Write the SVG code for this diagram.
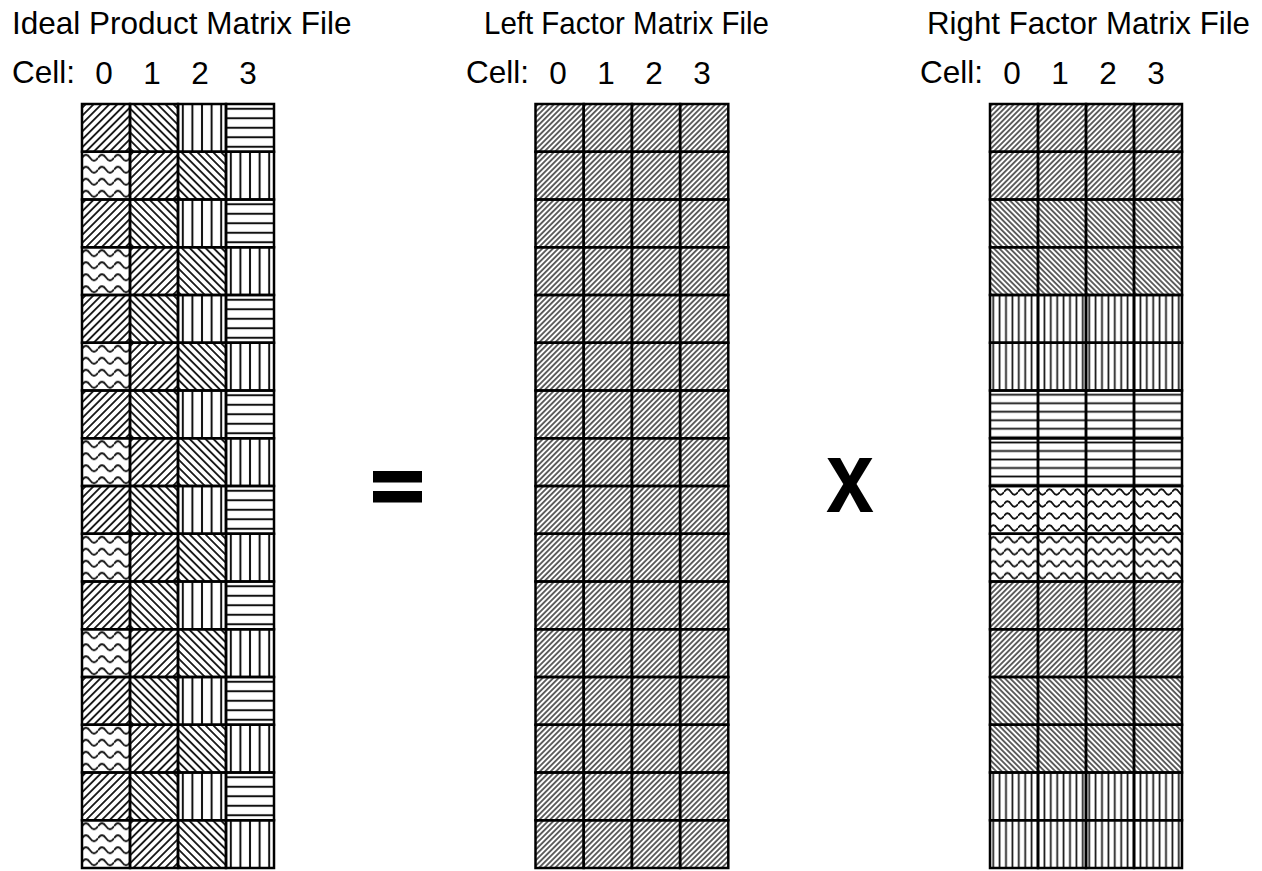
<svg xmlns="http://www.w3.org/2000/svg" width="1262" height="871" viewBox="0 0 1262 871">
<style>
text{font-family:"Liberation Sans",Arial,sans-serif;fill:#000}
.t{font-size:31.5px}
.d{font-size:31.5px;text-anchor:middle}
.c{stroke:#000;stroke-width:2.5}
.s{stroke:#111;fill:none}
</style>
<defs>
<pattern id="cR" width="5.6" height="5.6" patternUnits="userSpaceOnUse" patternTransform="rotate(45)"><line class="s" x1="2.8" y1="-1" x2="2.8" y2="6.6" stroke-width="1.8"/></pattern>
<pattern id="cL" width="5.6" height="5.6" patternUnits="userSpaceOnUse" patternTransform="rotate(-45)"><line class="s" x1="2.8" y1="-1" x2="2.8" y2="6.6" stroke-width="1.8"/></pattern>
<pattern id="fR" width="3.8" height="3.8" patternUnits="userSpaceOnUse" patternTransform="rotate(45)"><line class="s" x1="1.9" y1="-1" x2="1.9" y2="4.8" stroke-width="1.3"/></pattern>
<pattern id="fL" width="3.8" height="3.8" patternUnits="userSpaceOnUse" patternTransform="rotate(-45)"><line class="s" x1="1.9" y1="-1" x2="1.9" y2="4.8" stroke-width="1.3"/></pattern>
<pattern id="vC" width="9.6" height="10" patternUnits="userSpaceOnUse"><line class="s" x1="4.8" y1="0" x2="4.8" y2="10" stroke-width="2"/></pattern>
<pattern id="hC" width="10" height="9.5" patternUnits="userSpaceOnUse"><line class="s" x1="0" y1="4.75" x2="10" y2="4.75" stroke-width="2"/></pattern>
<pattern id="vF" width="6.4" height="10" patternUnits="userSpaceOnUse"><line class="s" x1="3.2" y1="0" x2="3.2" y2="10" stroke-width="1.7"/></pattern>
<pattern id="hF" width="10" height="8.5" patternUnits="userSpaceOnUse"><line class="s" x1="0" y1="4.25" x2="10" y2="4.25" stroke-width="1.8"/></pattern>
<pattern id="wC" width="16" height="12" patternUnits="userSpaceOnUse"><path class="s" d="M0,6 Q4,0 8,6 T16,6" stroke-width="1.8"/></pattern>
<pattern id="wF" width="14" height="12" patternUnits="userSpaceOnUse"><path class="s" d="M0,6 Q3.5,0.5 7,6 T14,6" stroke-width="1.8"/></pattern>

<g id="rowE"><rect class="c" x="0" y="0" width="48" height="47.75" fill="url(#cR)"/><rect class="c" x="48" y="0" width="48" height="47.75" fill="url(#cL)"/><rect class="c" x="96" y="0" width="48" height="47.75" fill="url(#vC)"/><rect class="c" x="144" y="0" width="48" height="47.75" fill="url(#hC)"/></g>
<g id="rowO"><rect class="c" x="0" y="0" width="48" height="47.75" fill="url(#wC)"/><rect class="c" x="48" y="0" width="48" height="47.75" fill="url(#cR)"/><rect class="c" x="96" y="0" width="48" height="47.75" fill="url(#cL)"/><rect class="c" x="144" y="0" width="48" height="47.75" fill="url(#vC)"/></g>
<g id="rowM"><rect class="c" x="0" y="0" width="48.2" height="47.75" fill="url(#fR)"/><rect class="c" x="48.2" y="0" width="48.2" height="47.75" fill="url(#fR)"/><rect class="c" x="96.4" y="0" width="48.2" height="47.75" fill="url(#fR)"/><rect class="c" x="144.6" y="0" width="48.2" height="47.75" fill="url(#fR)"/></g>
<g id="rFR"><rect class="c" x="0" y="0" width="48" height="47.75" fill="url(#fR)"/><rect class="c" x="48" y="0" width="48" height="47.75" fill="url(#fR)"/><rect class="c" x="96" y="0" width="48" height="47.75" fill="url(#fR)"/><rect class="c" x="144" y="0" width="48" height="47.75" fill="url(#fR)"/></g>
<g id="rFL"><rect class="c" x="0" y="0" width="48" height="47.75" fill="url(#fL)"/><rect class="c" x="48" y="0" width="48" height="47.75" fill="url(#fL)"/><rect class="c" x="96" y="0" width="48" height="47.75" fill="url(#fL)"/><rect class="c" x="144" y="0" width="48" height="47.75" fill="url(#fL)"/></g>
<g id="rV"><rect class="c" x="0" y="0" width="48" height="47.75" fill="url(#vF)"/><rect class="c" x="48" y="0" width="48" height="47.75" fill="url(#vF)"/><rect class="c" x="96" y="0" width="48" height="47.75" fill="url(#vF)"/><rect class="c" x="144" y="0" width="48" height="47.75" fill="url(#vF)"/></g>
<g id="rH"><rect class="c" x="0" y="0" width="48" height="47.75" fill="url(#hF)"/><rect class="c" x="48" y="0" width="48" height="47.75" fill="url(#hF)"/><rect class="c" x="96" y="0" width="48" height="47.75" fill="url(#hF)"/><rect class="c" x="144" y="0" width="48" height="47.75" fill="url(#hF)"/></g>
<g id="rW"><rect class="c" x="0" y="0" width="48" height="47.75" fill="url(#wF)"/><rect class="c" x="48" y="0" width="48" height="47.75" fill="url(#wF)"/><rect class="c" x="96" y="0" width="48" height="47.75" fill="url(#wF)"/><rect class="c" x="144" y="0" width="48" height="47.75" fill="url(#wF)"/></g>
</defs>
<rect width="1262" height="871" fill="#fff"/>

<g id="ideal-product">
<text class="t" x="12" y="34">Ideal Product Matrix File</text>
<text class="t" x="12" y="83">Cell:</text>
<text class="d" x="104" y="84">0</text><text class="d" x="152" y="84">1</text><text class="d" x="200" y="84">2</text><text class="d" x="248" y="84">3</text>
<g transform="translate(82,0)">
<use href="#rowE" y="104"/><use href="#rowO" y="151.75"/><use href="#rowE" y="199.5"/><use href="#rowO" y="247.25"/>
<use href="#rowE" y="295"/><use href="#rowO" y="342.75"/><use href="#rowE" y="390.5"/><use href="#rowO" y="438.25"/>
<use href="#rowE" y="486"/><use href="#rowO" y="533.75"/><use href="#rowE" y="581.5"/><use href="#rowO" y="629.25"/>
<use href="#rowE" y="677"/><use href="#rowO" y="724.75"/><use href="#rowE" y="772.5"/><use href="#rowO" y="820.25"/>
</g>
</g>

<g id="equals">
<rect x="373" y="471" width="49" height="11.5" fill="#000"/>
<rect x="373" y="491" width="49" height="11.5" fill="#000"/>
</g>

<g id="left-factor">
<text class="t" x="484" y="34" textLength="285" lengthAdjust="spacingAndGlyphs">Left Factor Matrix File</text>
<text class="t" x="466" y="83">Cell:</text>
<text class="d" x="558" y="84">0</text><text class="d" x="606" y="84">1</text><text class="d" x="654" y="84">2</text><text class="d" x="702" y="84">3</text>
<g transform="translate(535.5,0)">
<use href="#rowM" y="104"/><use href="#rowM" y="151.75"/><use href="#rowM" y="199.5"/><use href="#rowM" y="247.25"/>
<use href="#rowM" y="295"/><use href="#rowM" y="342.75"/><use href="#rowM" y="390.5"/><use href="#rowM" y="438.25"/>
<use href="#rowM" y="486"/><use href="#rowM" y="533.75"/><use href="#rowM" y="581.5"/><use href="#rowM" y="629.25"/>
<use href="#rowM" y="677"/><use href="#rowM" y="724.75"/><use href="#rowM" y="772.5"/><use href="#rowM" y="820.25"/>
</g>
</g>

<g id="times">
<text x="826" y="512" font-size="102" font-weight="bold" textLength="48" lengthAdjust="spacingAndGlyphs">x</text>
</g>

<g id="right-factor">
<text class="t" x="927" y="34" textLength="323" lengthAdjust="spacingAndGlyphs">Right Factor Matrix File</text>
<text class="t" x="920" y="83">Cell:</text>
<text class="d" x="1012" y="84">0</text><text class="d" x="1060" y="84">1</text><text class="d" x="1108" y="84">2</text><text class="d" x="1156" y="84">3</text>
<g transform="translate(990,0)">
<use href="#rFR" y="104"/><use href="#rFR" y="151.75"/><use href="#rFL" y="199.5"/><use href="#rFL" y="247.25"/>
<use href="#rV" y="295"/><use href="#rV" y="342.75"/><use href="#rH" y="390.5"/><use href="#rH" y="438.25"/>
<use href="#rW" y="486"/><use href="#rW" y="533.75"/><use href="#rFR" y="581.5"/><use href="#rFR" y="629.25"/>
<use href="#rFL" y="677"/><use href="#rFL" y="724.75"/><use href="#rV" y="772.5"/><use href="#rV" y="820.25"/>
</g>
</g>
</svg>
